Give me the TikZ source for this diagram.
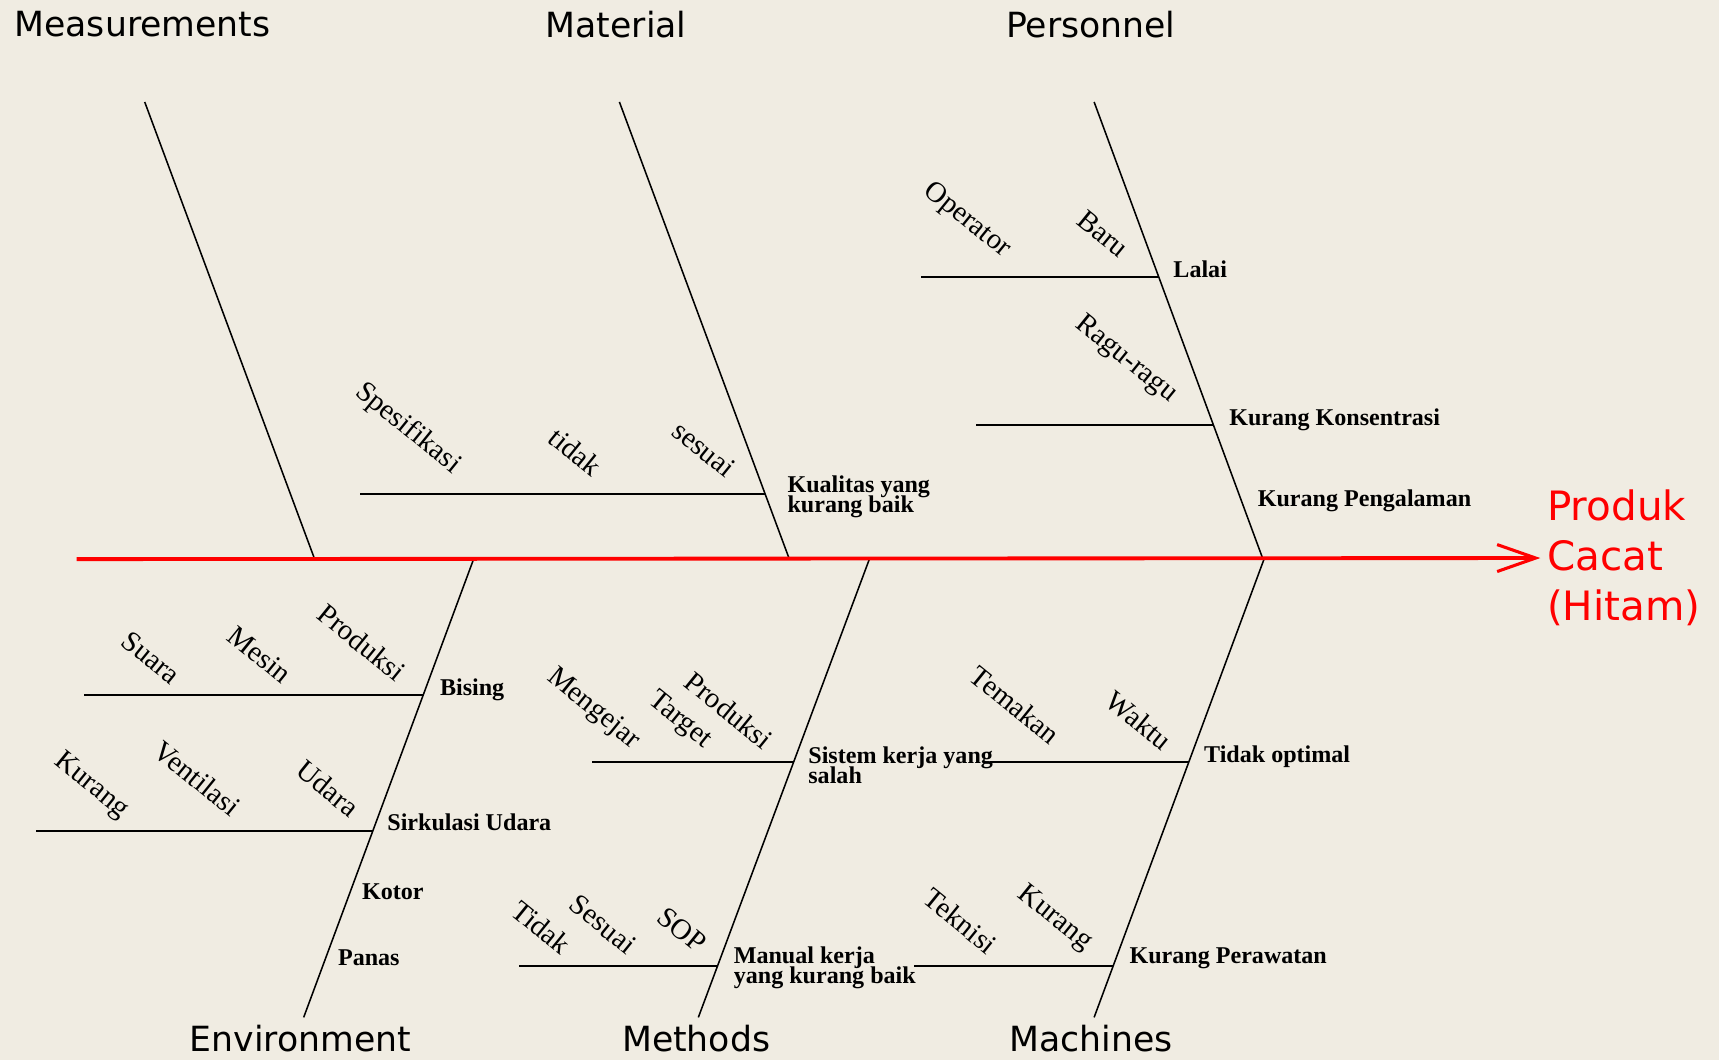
\documentclass[tikz,border=0pt]{standalone}
\usepackage{fontspec}
\setmainfont{Liberation Serif}
\setsansfont{DejaVu Sans}
\usetikzlibrary{arrows.meta,calc}
\definecolor{paper}{RGB}{240,236,226}

\begin{document}
\begin{tikzpicture}[x=0.02cm, y=-0.02cm,
    bone/.style={line width=0.8pt},
    twig/.style={line width=1.1pt},
    group/.style={font=\sffamily\fontsize{18}{20}\selectfont},
    cause/.style={font={\bfseries\fontsize{12.5}{10.6}\selectfont\lineskiplimit=-6pt\relax}, anchor=west, align=left, inner sep=0pt},
    word/.style={font=\fontsize{15}{15}\selectfont, rotate=-39, inner sep=0pt},
    spine/.style={red, line width=2pt, -{Straight Barb[length=20pt,width=14pt,line width=1.6pt]}}]
      \path[use as bounding box, fill=paper] (0,0) rectangle (1568,967);

      \foreach \n/\xa/\ya/\xb/\yb in {meas/132/93/287/510, mat/565/93/720/510, pers/998/93/1152/510,
                                       env/277/928/432/510, meth/637/928/793/510, mach/998/928/1153/510}{
        \coordinate (\n0) at (\xa,\ya);
        \coordinate (\n1) at (\xb,\yb);
        \draw[bone] (\n0) -- (\n1);
      }

      \foreach \n/\x/\y/\t in {tmeas/130/22/Measurements, tmat/562/22/Material, tpers/995/22/Personnel,
                               tenv/274/947/Environment, tmeth/635/947/Methods, tmach/995/947/Machines}{
        \node[group] (\n) at (\x,\y) {\t};
      }

      \coordinate (tail) at (70,510);
      \node[group, text=red, anchor=west, align=left, font=\sffamily\fontsize{21}{26}\selectfont] (prod) at (1405,509) {Produk\\Cacat\\(Hitam)};
      \draw[spine] (tail) -- (prod.west);

      \foreach \n/\b/\t/\l in {kual/mat/0.8585/370, lalai/pers/0.3837/217, konsen/pers/0.7074/217,
                               bising/env/0.7033/309, sirk/env/0.4067/307, sistem/meth/0.5574/184,
                               manual/meth/0.1124/181, optim/mach/0.5574/181, rawat/mach/0.1124/182}{
        \coordinate (\n) at ($(\b0)!\t!(\b1)$);
        \coordinate (\n f) at ($(\n)+(-\l,0)$);
        \draw[twig] (\n) -- (\n f);
      }

      \foreach \n/\x/\y/\t in {lkual/718/453/{Kualitas yang\\kurang baik}, llalai/1070/246/Lalai,
                               lkonsen/1121/383/Kurang Konsentrasi, lpeng/1147/457/Kurang Pengalaman,
                               lbising/401/629/Bising, lsirk/353/750/Sirkulasi Udara, lkotor/330/813/Kotor,
                               lpanas/308/874/Panas, lsistem/737/698/{Sistem kerja yang\\salah},
                               lmanual/669/883/{Manual kerja\\yang kurang baik}, loptim/1098/690/Tidak optimal,
                               lrawat/1030/874/Kurang Perawatan}{
        \node[cause] (\n) at (\x,\y) {\t};
      }

      \foreach \i/\x/\y/\t in {1/372/391/Spesifikasi, 2/525/412/tidak, 3/642/410/sesuai,
                               4/882/201/Operator, 5/1006/213/Baru, 6/1027/328/Ragu-ragu,
                               7/138/600/Suara, 8/237/597/Mesin, 9/330/586/Produksi,
                               10/83/717/Kurang, 11/180/710/Ventilasi, 12/299/719/Udara,
                               13/541/647/Mengejar, 14/620/657/Target, 15/665/648/Produksi,
                               16/494/846/Tidak, 17/550/843/Sesuai, 18/622/848/SOP,
                               19/926/643/Temakan, 20/1039/657/Waktu, 21/876/840/Teknisi, 22/962/838/Kurang}{
        \node[word] (w\i) at (\x,\y) {\t};
      }
    \end{tikzpicture}
\end{document}
